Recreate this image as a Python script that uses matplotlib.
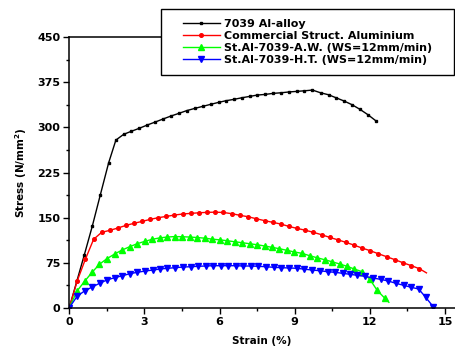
import matplotlib
matplotlib.use("Agg")
import matplotlib.pyplot as plt
from matplotlib.ticker import MultipleLocator
from matplotlib.legend_handler import HandlerLine2D
from matplotlib.lines import Line2D

# 7039 Al-alloy
alloy_x = [0, 0.3, 0.6, 0.92, 1.24, 1.57, 1.86, 2.17, 2.47, 2.79, 3.11, 3.43, 3.74, 4.06,
           4.38, 4.69, 5.01, 5.32, 5.64, 5.96, 6.26, 6.57, 6.89, 7.21, 7.51, 7.83, 8.14,
           8.46, 8.76, 9.08, 9.39, 9.71, 10.03, 10.35, 10.65, 10.97, 11.29, 11.61, 11.93, 12.25]
alloy_y = [0, 44, 88, 136, 188, 241, 279, 288.5, 293.5, 298.5, 304, 309, 314, 319,
           323.5, 328, 331.7, 335, 338.4, 341.7, 344.5, 346.7, 349.4, 351.7, 353.9, 355, 356.7,
           357.7, 359, 360, 361, 362.2, 357.7, 354.4, 349.4, 344, 337.8, 330, 321, 310.7]

# Commercial Struct. Aluminium
comm_x = [0, 0.32, 0.64, 0.97, 1.29, 1.61, 1.94, 2.26, 2.58, 2.91, 3.23, 3.55, 3.88, 4.2,
          4.54, 4.85, 5.19, 5.5, 5.82, 6.15, 6.5, 6.82, 7.14, 7.47, 7.81, 8.13, 8.44, 8.76,
          9.09, 9.42, 9.75, 10.07, 10.4, 10.72, 11.04, 11.36, 11.69, 12.02, 12.34, 12.67,
          13.0, 13.32, 13.66, 13.98, 14.26]
comm_y = [0, 45, 80.5, 113.8, 125.4, 128.7, 132.6, 137, 140.4, 143.7, 147, 149.8, 152, 154.2,
          156, 157, 158, 158.7, 159, 158.5, 156.4, 153.7, 151.4, 148, 144.8, 142, 139.3, 135.4,
          132, 129, 125.4, 121.5, 117, 113, 108.8, 104.3, 99.3, 94.8, 89.8, 84.9,
          79.9, 74.9, 69.9, 64.9, 58]

# St.Al-7039-A.W.
aw_x = [0, 0.31, 0.61, 0.91, 1.2, 1.5, 1.81, 2.11, 2.41, 2.71, 3.02, 3.31, 3.61, 3.91, 4.21,
        4.51, 4.81, 5.11, 5.41, 5.71, 6.01, 6.3, 6.6, 6.9, 7.2, 7.5, 7.8, 8.09, 8.39, 8.69,
        8.99, 9.29, 9.6, 9.89, 10.19, 10.49, 10.8, 11.09, 11.38, 11.69, 12.0, 12.29, 12.59, 12.76]
aw_y = [0, 27.8, 43.9, 58.9, 72.2, 81.5, 89.4, 96, 101.5, 106.5, 110.5, 113.8, 116.2, 117.6, 118.4,
        118.1, 117.6, 116.8, 115.7, 114.1, 112.9, 111.5, 109.8, 108.2, 106.5, 104.8, 102.7, 100.5, 98.2, 95.5,
        92.7, 90.5, 86.5, 83.2, 79.9, 76.5, 72.7, 68.9, 64.4, 59.9, 47.3, 29, 16.1, 9]

# St.Al-7039-H.T.
ht_x = [0, 0.32, 0.61, 0.91, 1.21, 1.5, 1.81, 2.11, 2.42, 2.71, 3.02, 3.33, 3.63, 3.92, 4.23,
        4.54, 4.84, 5.13, 5.44, 5.74, 6.04, 6.34, 6.65, 6.94, 7.25, 7.55, 7.86, 8.17, 8.47,
        8.78, 9.08, 9.38, 9.69, 10.0, 10.31, 10.61, 10.92, 11.21, 11.5, 11.82, 12.13, 12.43,
        12.74, 13.04, 13.35, 13.66, 13.95, 14.23, 14.53]
ht_y = [0, 19.5, 27.8, 34.4, 40.6, 46.1, 50, 53.2, 56.6, 58.9, 61, 62.7, 64.4, 65.6, 66.6,
        67.7, 68.2, 68.9, 69.4, 69.9, 69.9, 69.9, 69.9, 69.4, 69.4, 68.9, 68.2, 67.2, 66.6,
        66.1, 65.6, 64.2, 62.7, 61.6, 59.9, 58.9, 57.2, 55.6, 53.9, 52.2, 49.4, 47.2,
        44.4, 40.6, 37.3, 33.9, 31.1, 17.3, 1.7]

labels = ["7039 Al-alloy", "Commercial Struct. Aluminium",
          "St.Al-7039-A.W. (WS=12mm/min)", "St.Al-7039-H.T. (WS=12mm/min)"]

plt.rcParams['font.family'] = 'DejaVu Sans'
plt.rcParams['font.weight'] = 'bold'

fig = plt.figure(figsize=(4.55, 3.49), dpi=100)
ax = fig.add_axes([0.1523, 0.1183, 0.8477, 0.7748])

ax.plot(alloy_x, alloy_y, '-s', color='black', lw=1, ms=1.8, label=labels[0])
ax.plot(comm_x, comm_y, '-o', color='red', lw=1, ms=2.6, markevery=list(range(len(comm_x) - 1)),
        label=labels[1])
ax.plot(aw_x, aw_y, '-^', color='#00ff00', lw=1, ms=3.8, markevery=list(range(len(aw_x) - 1)),
        label=labels[2])
ax.plot(ht_x, ht_y, '-v', color='blue', lw=1, ms=3.8, label=labels[3])

ax.set_xlim(0, 15.4)
ax.set_ylim(0, 450)
ax.xaxis.set_major_locator(MultipleLocator(3))
ax.xaxis.set_minor_locator(MultipleLocator(1.5))
ax.yaxis.set_major_locator(MultipleLocator(75))
ax.yaxis.set_minor_locator(MultipleLocator(37.5))
ax.tick_params(which='major', direction='out', length=4, width=1, labelsize=8, pad=2.5)
ax.tick_params(which='minor', direction='out', length=2.2, width=1)
for lab in ax.get_xticklabels() + ax.get_yticklabels():
    lab.set_fontweight('bold')
ax.spines['right'].set_visible(False)
for s in ['left', 'bottom', 'top']:
    ax.spines[s].set_linewidth(1.1)

ax.set_xlabel("Strain (%)", fontsize=7.5, fontweight='bold', labelpad=7)
ax.set_ylabel("Stress (N/mm$^\\mathbf{2}$)", fontsize=7.5, fontweight='bold', labelpad=6)

# legend box spans figure pixels x 161..454, y 9..76
leg = fig.legend(loc='upper left', bbox_to_anchor=(161 / 455, 1 - 76 / 349, 293 / 455, 67 / 349),
                 mode='expand', borderaxespad=0,
                 fontsize=8, frameon=True, fancybox=False, framealpha=1, edgecolor='black',
                 handlelength=4.4, labelspacing=0.17, borderpad=0.9, handletextpad=0.36,
                 handler_map={Line2D: HandlerLine2D(xpad=1.08)})
leg.get_frame().set_linewidth(1)
for t in leg.get_texts():
    t.set_fontweight('bold')

plt.savefig('out.png', dpi=100)
